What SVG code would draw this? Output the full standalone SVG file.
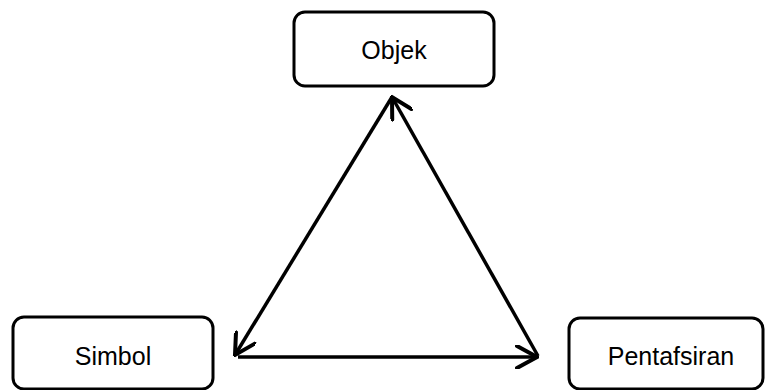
<svg xmlns="http://www.w3.org/2000/svg" width="766" height="390" viewBox="0 0 766 390">
<style>
.box{fill:#fff;stroke:#000;stroke-width:3}
.lbl{font-family:"Liberation Sans",Arial,sans-serif;font-size:25px;fill:#000;text-anchor:middle}
.ln{stroke:#000;stroke-width:3.5;fill:none}
</style>
<defs>
<marker id="ah" viewBox="0 0 24 24" refX="22" refY="12" markerWidth="24" markerHeight="24" markerUnits="userSpaceOnUse" orient="auto-start-reverse">
<path d="M2,1 L22,12 L2,23" fill="none" stroke="#000" stroke-width="4" stroke-linecap="round" stroke-linejoin="miter"/>
</marker>
</defs>
<g id="objek"><rect class="box" x="294" y="12" width="200" height="74" rx="11"/><text class="lbl" x="394" y="59">Objek</text></g>
<g id="simbol"><rect class="box" x="13" y="317" width="200" height="72" rx="11"/><text class="lbl" x="113" y="365">Simbol</text></g>
<g id="pentafsiran"><rect class="box" x="569" y="318" width="194" height="71" rx="11"/><text class="lbl" x="671" y="365">Pentafsiran</text></g>
<g id="connectors">
<line class="ln" x1="392" y1="97" x2="235" y2="355" marker-end="url(#ah)"/>
<line class="ln" x1="538" y1="356" x2="392" y2="97" marker-end="url(#ah)"/>
<line class="ln" x1="238" y1="357" x2="537" y2="357" marker-end="url(#ah)"/>
</g>
</svg>
